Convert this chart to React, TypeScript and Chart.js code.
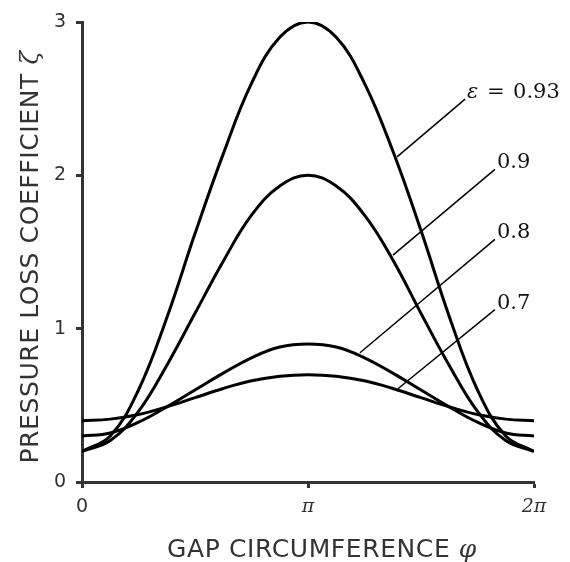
import React, { useEffect, useRef } from "react";
import { Chart, registerables } from "chart.js";

Chart.register(...registerables);

// φ in units of π
const PHI = [0, 0.125, 0.25, 0.375, 0.5, 0.625, 0.75, 0.875, 1, 1.125, 1.25, 1.375, 1.5, 1.625, 1.75, 1.875, 2];

const ZETA_093 = [0.2, 0.3, 0.6, 1.07, 1.62, 2.14, 2.6, 2.9, 3.0, 2.9, 2.6, 2.16, 1.64, 1.08, 0.6, 0.3, 0.2];
const ZETA_090 = [0.2, 0.27, 0.46, 0.76, 1.1, 1.44, 1.74, 1.93, 2.0, 1.93, 1.74, 1.45, 1.1, 0.76, 0.46, 0.27, 0.2];
const ZETA_080 = [0.3, 0.32, 0.39, 0.49, 0.6, 0.71, 0.81, 0.88, 0.9, 0.88, 0.81, 0.71, 0.6, 0.49, 0.39, 0.32, 0.3];
const ZETA_070 = [0.4, 0.41, 0.44, 0.49, 0.55, 0.61, 0.66, 0.69, 0.7, 0.69, 0.66, 0.61, 0.55, 0.49, 0.44, 0.41, 0.4];

const SERIES = [ZETA_093, ZETA_090, ZETA_080, ZETA_070];

const X_TICK_VALUES = [0, 1, 2];
const X_TICK_LABELS = ["0", "π", "2π"];
const Y_TICK_VALUES = [0, 1, 2, 3];

const CURVE_LABELS = ["0.93", "0.9", "0.8", "0.7"];
// leader lines, in data units (φ/π, ζ)
const LEADER_FROM_X = [1.394, 1.376, 1.23, 1.398];
const LEADER_FROM_Y = [2.12, 1.48, 0.843, 0.608];
const LEADER_TO_X = [1.695, 1.827, 1.827, 1.827];
const LEADER_TO_Y = [2.497, 2.039, 1.582, 1.124];

const X_TITLE = "GAP CIRCUMFERENCE";
const X_SYMBOL = "φ";
const Y_TITLE = "PRESSURE LOSS COEFFICIENT";
const Y_SYMBOL = "ζ";

const SANS = "'DejaVu Sans', Verdana, sans-serif";
const SERIF = "'DejaVu Serif', serif";
const AXIS_COLOR = "#333333";

const overlayPlugin = {
  id: "overlay",
  afterDatasetsDraw(chart: any) {
    const { ctx, scales } = chart;
    const xs = scales.x;
    const ys = scales.y;
    ctx.save();
    ctx.strokeStyle = "#000";
    ctx.lineWidth = 1.5;
    for (let i = 0; i < CURVE_LABELS.length; i++) {
      const x1 = xs.getPixelForValue(LEADER_FROM_X[i]);
      const y1 = ys.getPixelForValue(LEADER_FROM_Y[i]);
      const x2 = xs.getPixelForValue(LEADER_TO_X[i]);
      const y2 = ys.getPixelForValue(LEADER_TO_Y[i]);
      ctx.beginPath();
      ctx.moveTo(x1, y1);
      ctx.lineTo(x2, y2);
      ctx.stroke();
      ctx.fillStyle = "#111";
      ctx.textBaseline = "alphabetic";
      ctx.textAlign = "left";
      const ty = y2 - 1;
      if (i === 0) {
        const ex = x2 + 2;
        ctx.font = `italic 21px ${SERIF}`;
        ctx.fillText("ε", ex, ty);
        const eEnd = ex + ctx.measureText("ε").width;
        const numStart = x2 + 48;
        ctx.font = `21px ${SERIF}`;
        ctx.textAlign = "center";
        ctx.fillText("=", (eEnd + numStart) / 2, ty);
        ctx.textAlign = "left";
        ctx.fillText(CURVE_LABELS[i], numStart, ty);
      } else {
        ctx.font = `21px ${SERIF}`;
        ctx.fillText(CURVE_LABELS[i], x2 + 2, ty);
      }
    }
    ctx.restore();
  },
  afterDraw(chart: any) {
    const { ctx, chartArea } = chart;
    ctx.save();
    ctx.fillStyle = AXIS_COLOR;
    ctx.textBaseline = "middle";
    ctx.textAlign = "left";
    ctx.letterSpacing = "0.6px";
    // x title
    ctx.font = `25px ${SANS}`;
    const w1 = ctx.measureText(X_TITLE + " ").width;
    ctx.font = `italic 25px ${SERIF}`;
    const w2 = ctx.measureText(X_SYMBOL).width;
    const cx = (chartArea.left + chartArea.right) / 2 + 14;
    const startX = cx - (w1 + w2) / 2;
    const ty = chartArea.bottom + 68;
    ctx.font = `25px ${SANS}`;
    ctx.fillText(X_TITLE + " ", startX, ty);
    ctx.font = `italic 25px ${SERIF}`;
    ctx.fillText(X_SYMBOL, startX + w1, ty);
    // y title
    ctx.translate(31, (chartArea.top + chartArea.bottom) / 2 + 5);
    ctx.rotate(-Math.PI / 2);
    ctx.font = `25px ${SANS}`;
    const v1 = ctx.measureText(Y_TITLE + " ").width;
    ctx.font = `italic 25px ${SERIF}`;
    const v2 = ctx.measureText(Y_SYMBOL).width;
    const sx = -(v1 + v2) / 2;
    ctx.font = `25px ${SANS}`;
    ctx.fillText(Y_TITLE + " ", sx, 0);
    ctx.font = `italic 25px ${SERIF}`;
    ctx.fillText(Y_SYMBOL, sx + v1, 0);
    ctx.restore();
  },
};

export default function App() {
  const ref = useRef<HTMLCanvasElement | null>(null);
  useEffect(() => {
    if (!ref.current) return;
    const chart = new Chart(ref.current, {
      type: "line",
      data: {
        datasets: SERIES.map((s, i) => ({
          label: CURVE_LABELS[i],
          data: s.map((v, j) => ({ x: PHI[j], y: v })),
          borderColor: "#000",
          borderWidth: 3,
          pointRadius: 0,
          fill: false,
          tension: 0.4,
        })),
      },
      options: {
        responsive: false,
        animation: false,
        events: [],
        layout: { padding: { top: 22, right: 36, left: 0, bottom: 0 } },
        plugins: { legend: { display: false }, tooltip: { enabled: false }, title: { display: false } },
        scales: {
          x: {
            type: "linear",
            min: 0,
            max: 2,
            afterFit(scale: any) {
              scale.height = 80;
            },
            afterBuildTicks(scale: any) {
              scale.ticks = X_TICK_VALUES.map((v) => ({ value: v }));
            },
            ticks: {
              padding: 8,
              color: AXIS_COLOR,
              maxRotation: 0,
              autoSkip: false,
              callback: (v: any) => X_TICK_LABELS[X_TICK_VALUES.indexOf(Number(v))] ?? "",
              font: (c: any) =>
                c.index === 0
                  ? { family: SANS, size: 19 }
                  : { family: SERIF, size: 19, style: "italic" as const },
            },
            grid: {
              display: true,
              drawOnChartArea: false,
              drawTicks: true,
              tickLength: 6,
              tickWidth: 3,
              tickColor: AXIS_COLOR,
            },
            border: { display: true, width: 3, color: AXIS_COLOR },
          },
          y: {
            type: "linear",
            min: 0,
            max: 3,
            afterFit(scale: any) {
              scale.width = 82;
            },
            afterBuildTicks(scale: any) {
              scale.ticks = Y_TICK_VALUES.map((v) => ({ value: v }));
            },
            ticks: {
              padding: 10,
              color: AXIS_COLOR,
              font: { family: SANS, size: 19 },
            },
            grid: {
              display: true,
              drawOnChartArea: false,
              drawTicks: true,
              tickLength: 6,
              tickWidth: 3,
              tickColor: AXIS_COLOR,
            },
            border: { display: true, width: 3, color: AXIS_COLOR },
          },
        },
      },
      plugins: [overlayPlugin],
    });
    return () => chart.destroy();
  }, []);
  return (
    <div style={{ position: "absolute", left: 0, top: 0, width: 570, height: 562 }}>
      <canvas ref={ref} width={570} height={562} style={{ display: "block" }} />
    </div>
  );
}
